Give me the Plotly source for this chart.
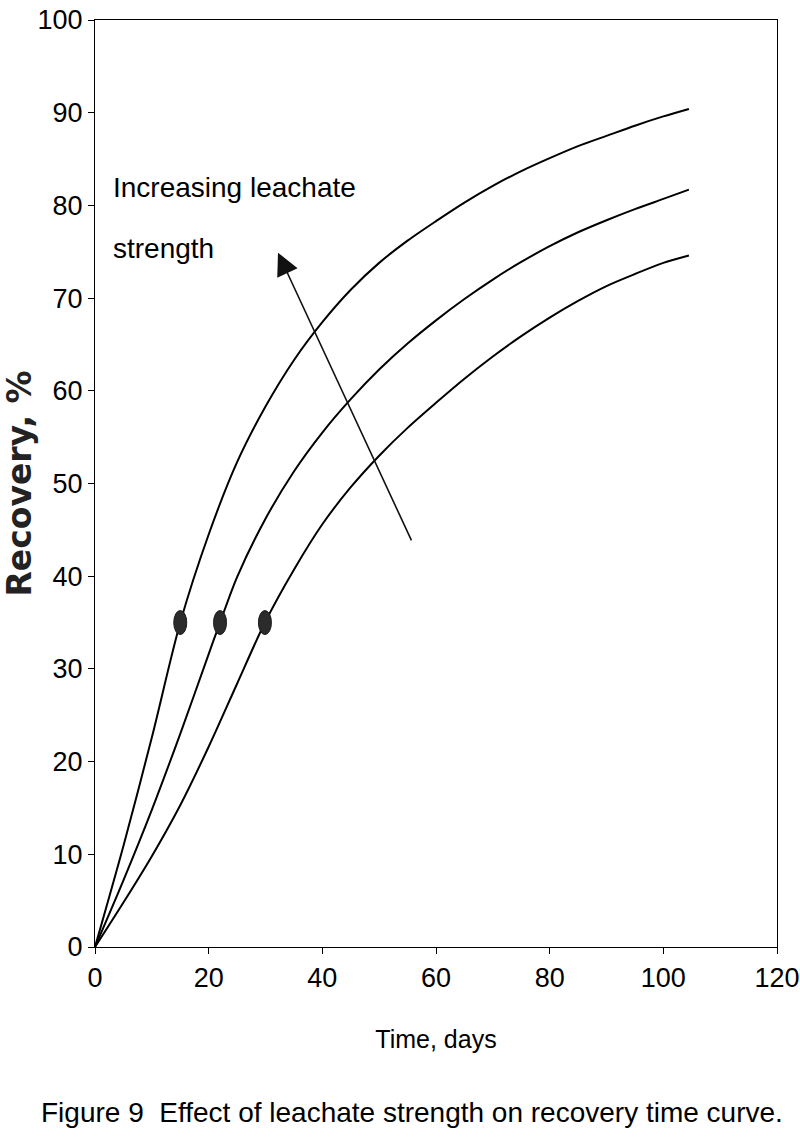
import plotly.graph_objects as go

# Recovery curves (days, %)
days_fast = [0, 5, 10, 15, 20, 25, 30, 35, 40, 45, 50, 55, 60, 65, 70, 75, 80, 85, 90, 95, 100, 104.5]
rec_fast = [0, 10.9, 22.6, 35, 44.5, 52.3, 58.3, 63.3, 67.4, 70.9, 73.8, 76.2, 78.3, 80.3, 82.1, 83.7, 85.1, 86.4, 87.5, 88.6, 89.6, 90.4]

days_mid = [0, 5, 10, 15, 20, 22, 25, 30, 35, 40, 45, 50, 55, 60, 65, 70, 75, 80, 85, 90, 95, 100, 104.5]
rec_mid = [0, 7.2, 14.8, 23, 31.6, 35, 39.9, 46.2, 51.3, 55.5, 59.1, 62.3, 65.1, 67.6, 69.9, 72, 73.9, 75.6, 77.1, 78.4, 79.6, 80.7, 81.7]

days_slow = [0, 5, 10, 15, 20, 25, 29.9, 35, 40, 45, 50, 55, 60, 65, 70, 75, 80, 85, 90, 95, 100, 104.5]
rec_slow = [0, 4.8, 9.8, 15.3, 21.6, 28.4, 35, 40.7, 45.6, 49.6, 53, 56, 58.7, 61.3, 63.7, 65.9, 67.9, 69.7, 71.3, 72.6, 73.8, 74.6]

# marked points on each curve
dot_days = [15, 22, 29.9]
dot_rec = [35, 35, 35]

# arrow: tail and head in data units
arrow_tail = (55.8, 43.7)
arrow_head = (32.2, 74.9)

x_ticks = [0, 20, 40, 60, 80, 100, 120]
y_ticks = [0, 10, 20, 30, 40, 50, 60, 70, 80, 90, 100]

SANS = "Liberation Sans, Arial, Helvetica"

fig = go.Figure()

for xs, ys in [(days_fast, rec_fast), (days_mid, rec_mid), (days_slow, rec_slow)]:
    fig.add_trace(go.Scatter(
        x=xs, y=ys, mode="lines",
        line=dict(color="black", width=2, shape="spline", smoothing=0.8),
        showlegend=False, hoverinfo="skip"
    ))

# oval dots, sized in pixels, anchored at the data points
for dx, dy in zip(dot_days, dot_rec):
    fig.add_shape(
        type="circle", xref="x", yref="y",
        xsizemode="pixel", ysizemode="pixel",
        xanchor=dx, yanchor=dy,
        x0=-6.5, x1=6.5, y0=-12, y1=12,
        fillcolor="#2b2b2b", line=dict(color="#1a1a1a", width=1)
    )

fig.add_annotation(
    x=arrow_head[0], y=arrow_head[1], ax=arrow_tail[0], ay=arrow_tail[1],
    xref="x", yref="y", axref="x", ayref="y",
    text="", showarrow=True, arrowhead=2, arrowsize=2.8, arrowwidth=1.6,
    arrowcolor="#111111"
)

fig.add_annotation(
    x=2.8, y=83.85, xref="x", yref="y", xanchor="left", yanchor="top",
    text="Increasing leachate", showarrow=False,
    font=dict(family=SANS, size=28, color="black")
)
fig.add_annotation(
    x=2.8, y=77.2, xref="x", yref="y", xanchor="left", yanchor="top",
    text="strength", showarrow=False,
    font=dict(family=SANS, size=28, color="black")
)

# caption below the chart
fig.add_annotation(
    x=0.4655, y=-0.178, xref="paper", yref="paper", xanchor="center", yanchor="middle",
    text="Figure 9&nbsp; Effect of leachate strength on recovery time curve.",
    showarrow=False, font=dict(family=SANS, size=28, color="black")
)

fig.update_xaxes(
    range=[0, 120], tickvals=x_ticks, ticks="outside", ticklen=6, tickwidth=1,
    tickcolor="black", showline=True, linecolor="black", linewidth=1.3, mirror=True,
    showgrid=False, zeroline=False, automargin=False, ticklabeloverflow="allow",
    tickfont=dict(family=SANS, size=27, color="black"),
    title=dict(text="Time, days", font=dict(family=SANS, size=25, color="black"), standoff=38)
)
fig.update_yaxes(
    range=[0, 100], tickvals=y_ticks, ticks="outside", ticklen=6, tickwidth=1,
    tickcolor="black", showline=True, linecolor="black", linewidth=1.3, mirror=True,
    showgrid=False, zeroline=False, automargin=False, ticklabeloverflow="allow",
    tickfont=dict(family=SANS, size=27, color="black"),
    title=dict(text="<b>Recovery, %</b>", font=dict(family="DejaVu Sans, Arial", size=33, color="#222"), standoff=10)
)

fig.update_layout(
    width=800, height=1148,
    margin=dict(l=95, r=23, t=20, b=201),
    plot_bgcolor="white", paper_bgcolor="white",
    showlegend=False
)

# drop the default page margin so the figure sits at the top-left corner
fig.write_html(
    "out.html",
    config={"displayModeBar": False},
    post_script="document.body.style.margin='0';document.body.style.overflow='hidden';"
)
